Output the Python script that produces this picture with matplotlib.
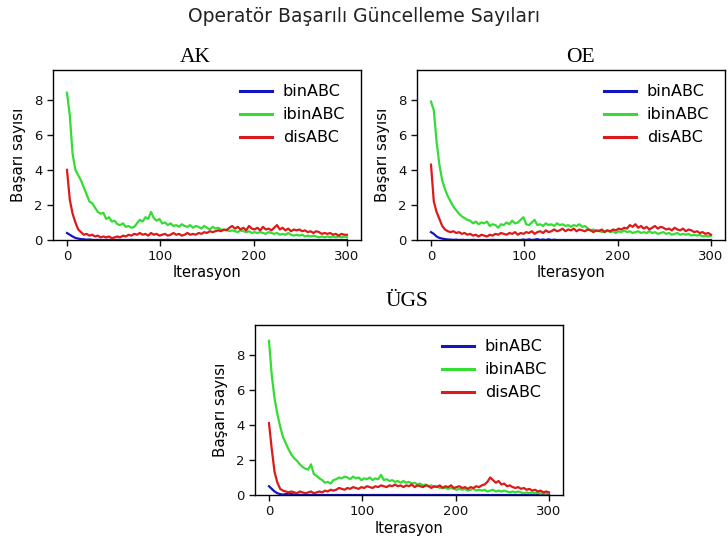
import numpy as np
import matplotlib
matplotlib.use("Agg")
import matplotlib.pyplot as plt

plt.rcParams['font.family'] = ['DejaVu Sans']

STEP = 3  # iteration spacing between stored samples (0, 3, ..., 300)

series_names = ["binABC", "ibinABC", "disABC"]
series_colors = ["#1414c0", "#34dc34", "#dc1a1a"]
panel_titles = ["AK", "OE", "ÜGS"]

# ---- AK ----
ak_bin = [0.4, 0.3, 0.2, 0.12, 0.08, 0.05, 0.04, 0.02, 0.03, 0.01,
          0.0, 0.01, 0.0, 0.0, 0.01, 0.0, 0.0, 0.0, 0.01, 0.0,
          0.0, 0.0, 0.0, 0.01, 0.0, 0.0, 0.0, 0.0, 0.0, 0.01,
          0.0, 0.0, 0.0, 0.0, 0.0, 0.0, 0.01, 0.0, 0.0, 0.0,
          0.0, 0.0, 0.0, 0.0, 0.0, 0.0, 0.0, 0.0, 0.0, 0.0,
          0.0, 0.0, 0.0, 0.0, 0.0, 0.0, 0.0, 0.0, 0.0, 0.0,
          0.0, 0.0, 0.0, 0.0, 0.0, 0.0, 0.0, 0.0, 0.0, 0.0,
          0.0, 0.0, 0.0, 0.0, 0.0, 0.0, 0.0, 0.0, 0.0, 0.0,
          0.0, 0.0, 0.0, 0.0, 0.0, 0.0, 0.0, 0.0, 0.0, 0.0,
          0.0, 0.0, 0.0, 0.0, 0.0, 0.0, 0.0, 0.0, 0.0, 0.0, 0.0]
ak_ibin = [8.4, 7.1, 4.9, 4.0, 3.7, 3.4, 3.0, 2.6, 2.2, 2.1,
           1.85, 1.6, 1.5, 1.55, 1.2, 1.3, 1.05, 1.1, 0.9, 0.85,
           0.95, 0.75, 0.8, 0.7, 0.75, 0.95, 1.15, 1.05, 1.3, 1.2,
           1.6, 1.25, 1.1, 1.2, 0.95, 1.0, 0.85, 0.95, 0.8, 0.85,
           0.75, 0.9, 0.8, 0.75, 0.85, 0.7, 0.8, 0.75, 0.65, 0.8,
           0.7, 0.6, 0.75, 0.65, 0.7, 0.6, 0.55, 0.6, 0.5, 0.55,
           0.5, 0.45, 0.55, 0.5, 0.45, 0.5, 0.4, 0.45, 0.4, 0.45,
           0.4, 0.35, 0.45, 0.4, 0.35, 0.4, 0.3, 0.35, 0.3, 0.4,
           0.3, 0.25, 0.3, 0.25, 0.3, 0.2, 0.25, 0.2, 0.25, 0.2,
           0.15, 0.2, 0.15, 0.2, 0.15, 0.2, 0.15, 0.2, 0.15, 0.2, 0.15]
ak_dis = [4.0, 2.3, 1.5, 1.0, 0.6, 0.45, 0.3, 0.35, 0.25, 0.3,
          0.2, 0.25, 0.15, 0.2, 0.15, 0.2, 0.1, 0.15, 0.2, 0.15,
          0.25, 0.2, 0.3, 0.25, 0.35, 0.3, 0.4, 0.3, 0.35, 0.25,
          0.4, 0.3, 0.35, 0.25, 0.3, 0.35, 0.25, 0.3, 0.4, 0.3,
          0.35, 0.25, 0.3, 0.4, 0.3, 0.35, 0.3, 0.4, 0.35, 0.45,
          0.4, 0.5, 0.45, 0.5, 0.55, 0.5, 0.6, 0.55, 0.7, 0.8,
          0.65, 0.75, 0.6, 0.7, 0.55, 0.8, 0.65, 0.6, 0.7, 0.55,
          0.75, 0.6, 0.65, 0.55, 0.7, 0.85, 0.6, 0.7, 0.55, 0.65,
          0.5, 0.6, 0.55, 0.6, 0.5, 0.55, 0.45, 0.5, 0.4, 0.5,
          0.45, 0.35, 0.4, 0.35, 0.4, 0.3, 0.35, 0.25, 0.35, 0.3, 0.3]

# ---- OE ----
oe_bin = [0.45, 0.35, 0.2, 0.12, 0.08, 0.05, 0.03, 0.02, 0.01, 0.02,
          0.0, 0.01, 0.0, 0.0, 0.0, 0.01, 0.0, 0.0, 0.0, 0.0,
          0.0, 0.0, 0.01, 0.0, 0.0, 0.0, 0.0, 0.0, 0.0, 0.0,
          0.0, 0.0, 0.0, 0.03, 0.0, 0.04, 0.0, 0.02, 0.05, 0.0,
          0.03, 0.0, 0.04, 0.0, 0.02, 0.0, 0.0, 0.0, 0.0, 0.0,
          0.0, 0.0, 0.0, 0.0, 0.0, 0.0, 0.0, 0.0, 0.0, 0.0,
          0.0, 0.0, 0.0, 0.0, 0.0, 0.0, 0.0, 0.0, 0.0, 0.0,
          0.0, 0.0, 0.0, 0.0, 0.0, 0.0, 0.0, 0.0, 0.0, 0.0,
          0.0, 0.0, 0.0, 0.0, 0.0, 0.0, 0.0, 0.0, 0.0, 0.0,
          0.0, 0.0, 0.0, 0.0, 0.0, 0.0, 0.0, 0.0, 0.0, 0.0, 0.0]
oe_ibin = [7.9, 7.4, 5.6, 4.3, 3.4, 2.9, 2.5, 2.2, 1.9, 1.7,
           1.5, 1.35, 1.25, 1.15, 1.1, 0.95, 1.05, 0.9, 1.0, 0.95,
           1.05, 0.8, 0.9, 0.85, 0.7, 0.9, 0.85, 1.0, 0.9, 1.1,
           0.95, 1.0, 1.15, 1.3, 0.9, 0.85, 1.0, 1.15, 0.85, 0.9,
           0.8, 0.95, 0.85, 0.9, 0.8, 0.95, 0.85, 0.9, 0.8, 0.85,
           0.75, 0.85, 0.8, 0.9, 0.75, 0.8, 0.65, 0.55, 0.6, 0.5,
           0.55, 0.45, 0.5, 0.55, 0.45, 0.5, 0.4, 0.5, 0.45, 0.55,
           0.45, 0.5, 0.4, 0.45, 0.5, 0.4, 0.45, 0.4, 0.5, 0.4,
           0.45, 0.35, 0.4, 0.45, 0.35, 0.4, 0.3, 0.35, 0.4, 0.3,
           0.35, 0.3, 0.35, 0.25, 0.3, 0.25, 0.3, 0.2, 0.25, 0.2, 0.25]
oe_dis = [4.3, 2.2, 1.6, 1.2, 0.8, 0.6, 0.5, 0.45, 0.5, 0.4,
          0.45, 0.35, 0.4, 0.3, 0.35, 0.25, 0.3, 0.2, 0.3, 0.25,
          0.2, 0.3, 0.25, 0.35, 0.3, 0.4, 0.35, 0.3, 0.4, 0.35,
          0.45, 0.3, 0.4, 0.35, 0.45, 0.4, 0.5, 0.35, 0.45, 0.5,
          0.4, 0.55, 0.45, 0.5, 0.6, 0.5, 0.55, 0.65, 0.5, 0.6,
          0.55, 0.65, 0.5, 0.6, 0.55, 0.5, 0.6, 0.55, 0.45, 0.55,
          0.5, 0.6, 0.45, 0.55, 0.5, 0.6, 0.55, 0.65, 0.6, 0.7,
          0.65, 0.85, 0.75, 0.9, 0.7, 0.8, 0.65, 0.75, 0.6, 0.7,
          0.8, 0.65, 0.75, 0.7, 0.6, 0.65, 0.55, 0.7, 0.6, 0.55,
          0.65, 0.5, 0.6, 0.55, 0.45, 0.5, 0.4, 0.45, 0.35, 0.4, 0.3]

# ---- ÜGS ----
ugs_bin = [0.5, 0.35, 0.2, 0.1, 0.05, 0.02, 0.05, 0.08, 0.05, 0.03,
           0.0, 0.01, 0.0, 0.0, 0.0, 0.0, 0.01, 0.0, 0.0, 0.0,
           0.0, 0.0, 0.0, 0.0, 0.0, 0.0, 0.0, 0.0, 0.0, 0.0,
           0.0, 0.0, 0.0, 0.0, 0.0, 0.0, 0.0, 0.0, 0.0, 0.0,
           0.0, 0.0, 0.0, 0.0, 0.0, 0.0, 0.0, 0.0, 0.0, 0.0,
           0.0, 0.0, 0.0, 0.0, 0.0, 0.0, 0.0, 0.0, 0.0, 0.0,
           0.0, 0.0, 0.0, 0.0, 0.0, 0.0, 0.0, 0.0, 0.0, 0.0,
           0.0, 0.0, 0.0, 0.0, 0.0, 0.0, 0.0, 0.0, 0.0, 0.0,
           0.0, 0.0, 0.0, 0.0, 0.0, 0.0, 0.0, 0.0, 0.0, 0.0,
           0.0, 0.0, 0.0, 0.0, 0.0, 0.0, 0.0, 0.0, 0.0, 0.0, 0.0]
ugs_ibin = [8.8, 6.8, 5.5, 4.6, 3.9, 3.3, 2.95, 2.6, 2.3, 2.1,
            1.95, 1.75, 1.6, 1.5, 1.45, 1.75, 1.2, 1.1, 0.95, 0.85,
            0.7, 0.75, 0.65, 0.85, 0.9, 1.0, 0.95, 1.05, 1.0, 0.9,
            1.05, 0.95, 1.0, 0.85, 0.95, 0.9, 1.0, 0.85, 0.95, 0.9,
            1.15, 0.85, 0.9, 0.8, 0.85, 0.75, 0.8, 0.7, 0.8, 0.7,
            0.75, 0.65, 0.7, 0.6, 0.65, 0.55, 0.6, 0.5, 0.55, 0.45,
            0.5, 0.4, 0.45, 0.4, 0.35, 0.4, 0.35, 0.3, 0.35, 0.3,
            0.35, 0.25, 0.3, 0.35, 0.25, 0.3, 0.25, 0.3, 0.2, 0.25,
            0.3, 0.2, 0.25, 0.2, 0.25, 0.2, 0.15, 0.2, 0.15, 0.2,
            0.15, 0.1, 0.15, 0.1, 0.15, 0.1, 0.12, 0.08, 0.1, 0.08, 0.1]
ugs_dis = [4.1, 2.6, 1.3, 0.7, 0.35, 0.25, 0.2, 0.15, 0.2, 0.15,
           0.1, 0.2, 0.15, 0.1, 0.15, 0.2, 0.1, 0.15, 0.2, 0.15,
           0.25, 0.2, 0.3, 0.25, 0.3, 0.4, 0.35, 0.3, 0.4, 0.35,
           0.45, 0.4, 0.35, 0.45, 0.4, 0.5, 0.45, 0.4, 0.5, 0.45,
           0.55, 0.5, 0.45, 0.55, 0.5, 0.6, 0.5, 0.55, 0.45, 0.55,
           0.5, 0.6, 0.45, 0.55, 0.5, 0.45, 0.55, 0.5, 0.4, 0.5,
           0.45, 0.55, 0.4, 0.5, 0.45, 0.55, 0.4, 0.45, 0.5, 0.4,
           0.45, 0.35, 0.45, 0.4, 0.5, 0.45, 0.55, 0.6, 0.75, 1.0,
           0.85, 0.7, 0.8, 0.6, 0.65, 0.5, 0.55, 0.45, 0.4, 0.45,
           0.35, 0.4, 0.3, 0.35, 0.25, 0.3, 0.2, 0.25, 0.15, 0.2, 0.15]

panel_data = [
    (ak_bin, ak_ibin, ak_dis),
    (oe_bin, oe_ibin, oe_dis),
    (ugs_bin, ugs_ibin, ugs_dis),
]

fig = plt.figure(figsize=(7.28, 5.48), dpi=100)

W, H = 728, 548
# axes rectangles in pixels: left, top, width, height
axes_px = [(53, 70, 308, 170), (417, 70, 308, 170), (255, 325, 308, 170)]
title_px = [(195, 57), (580, 57), (407, 302)]

for (l, t, w, h), (tx, ty), title, series in zip(axes_px, title_px, panel_titles, panel_data):
    ax = fig.add_axes([l / W, 1 - (t + h) / H, w / W, h / H])
    for name, color, vals in zip(series_names, series_colors, series):
        it = np.arange(len(vals)) * STEP
        ax.plot(it, vals, color=color, lw=1.6, label=name)
    ax.set_xlim(-15, 315)
    ax.set_ylim(0, 9.7)
    ax.set_xticks([0, 100, 200, 300])
    ax.set_yticks([0, 2, 4, 6, 8])
    ax.tick_params(labelsize=9.5, length=4, width=1, colors="#111111")
    ax.set_xlabel("Iterasyon", fontsize=10.5, labelpad=1.5)
    ax.set_ylabel("Başarı sayısı", fontsize=10.8, labelpad=6)
    for sp in ax.spines.values():
        sp.set_linewidth(1.0)
    leg = ax.legend(loc="upper right", frameon=False, fontsize=11.5,
                    handlelength=2.0, labelspacing=0.5, handletextpad=0.7,
                    bbox_to_anchor=(0.995, 1.0))
    for ln in leg.get_lines():
        ln.set_linewidth(2.2)
    fig.text(tx / W, 1 - ty / H, title, family="Liberation Serif",
             fontsize=15.5, ha="center", va="center")

fig.text(0.5, 1 - 17 / H, "Operatör Başarılı Güncelleme Sayıları",
         fontsize=13.5, ha="center", va="center", color="#222222")

fig.savefig("out.png", dpi=100)
